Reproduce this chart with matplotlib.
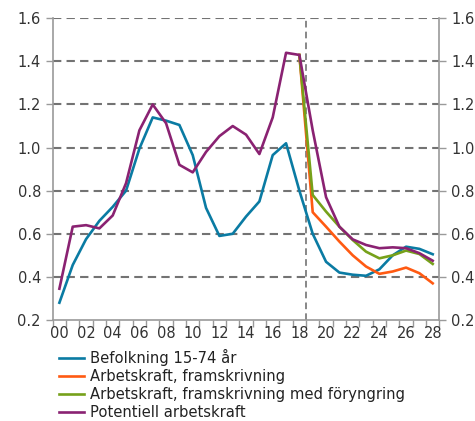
import matplotlib
matplotlib.use("Agg")
import matplotlib.pyplot as plt
import numpy as np

years = np.arange(2000, 2029)
tick_labels = ["%02d" % (y % 100) for y in years[::2]]

befolkning = [0.28, 0.455, 0.575, 0.66, 0.725, 0.80, 0.995, 1.14, 1.125, 1.105,
              0.965, 0.72, 0.59, 0.60, 0.68, 0.75, 0.965, 1.02, 0.80, 0.60,
              0.47, 0.42, 0.41, 0.405, 0.435, 0.50, 0.54, 0.53, 0.505]
potentiell = [0.345, 0.633, 0.64, 0.625, 0.685, 0.835, 1.08, 1.20, 1.113, 0.92,
              0.885, 0.98, 1.053, 1.10, 1.06, 0.97, 1.14, 1.44, 1.43, 1.08,
              0.77, 0.633, 0.574, 0.548, 0.533, 0.537, 0.533, 0.51, 0.475]
# projections start in 2018
proj_years = years[18:]
framskrivning = [1.43, 0.70, 0.633, 0.564, 0.50, 0.448, 0.414, 0.425, 0.443, 0.417, 0.37]
foryngring = [1.43, 0.78, 0.703, 0.633, 0.571, 0.517, 0.486, 0.50, 0.522, 0.506, 0.46]

blue = '#0a7ba3'
orange = '#ff5a12'
green = '#76a11a'
purple = '#8a2272'
grey = '#9a9a9a'

fig = plt.figure(figsize=(4.75, 4.21), dpi=100)
ax = fig.add_axes([0.111, 0.240, 0.814, 0.7165])

x = years - 2000
xp = proj_years - 2000
ax.plot(x, befolkning, color=blue, lw=1.9, label='Befolkning 15-74 år', zorder=3)
ax.plot(xp, framskrivning, color=orange, lw=1.9, label='Arbetskraft, framskrivning', zorder=3)
ax.plot(xp, foryngring, color=green, lw=1.9, label='Arbetskraft, framskrivning med föryngring', zorder=4)
ax.plot(x, potentiell, color=purple, lw=1.9, label='Potentiell arbetskraft', zorder=5)

ax.set_xlim(-0.5, 28.5)
ax.set_ylim(0.2, 1.6)
ax.set_yticks(np.arange(0.2, 1.61, 0.2))
ax.set_yticklabels(['%.1f' % v for v in np.arange(0.2, 1.61, 0.2)])
for v in np.arange(0.4, 1.61, 0.2):
    ax.axhline(v, color='#737373', lw=1.5, ls=(0, (4, 2.5)), zorder=1)
ax.axvline(18.5, color='#737373', lw=1.2, ls=(0, (4, 2.5)), zorder=1)

ax.set_xticks(np.arange(-0.5, 29, 1))
ax.set_xticklabels([])
ax.set_xticks(np.arange(0, 29, 2), minor=True)
ax.set_xticklabels(tick_labels, minor=True)
ax.tick_params(axis='x', which='major', length=5, width=1, color=grey, direction='out')
ax.tick_params(axis='x', which='minor', length=0, labelsize=10.5, pad=4, colors='#333333')
ax.tick_params(axis='y', length=5, width=1, color=grey, labelsize=10.5, labelcolor='#333333',
               left=True, right=True, labelleft=True, labelright=True)

ax.spines['top'].set_visible(False)
for s in ['left', 'right', 'bottom']:
    ax.spines[s].set_color(grey)
    ax.spines[s].set_linewidth(1.2)

ax.legend(loc='upper left', bbox_to_anchor=(0.0, -0.078), frameon=False, fontsize=10.6,
          handlelength=1.7, handletextpad=0.45, labelspacing=0.2, borderaxespad=0,
          labelcolor='#222222')

fig.savefig('out.png', dpi=100)
